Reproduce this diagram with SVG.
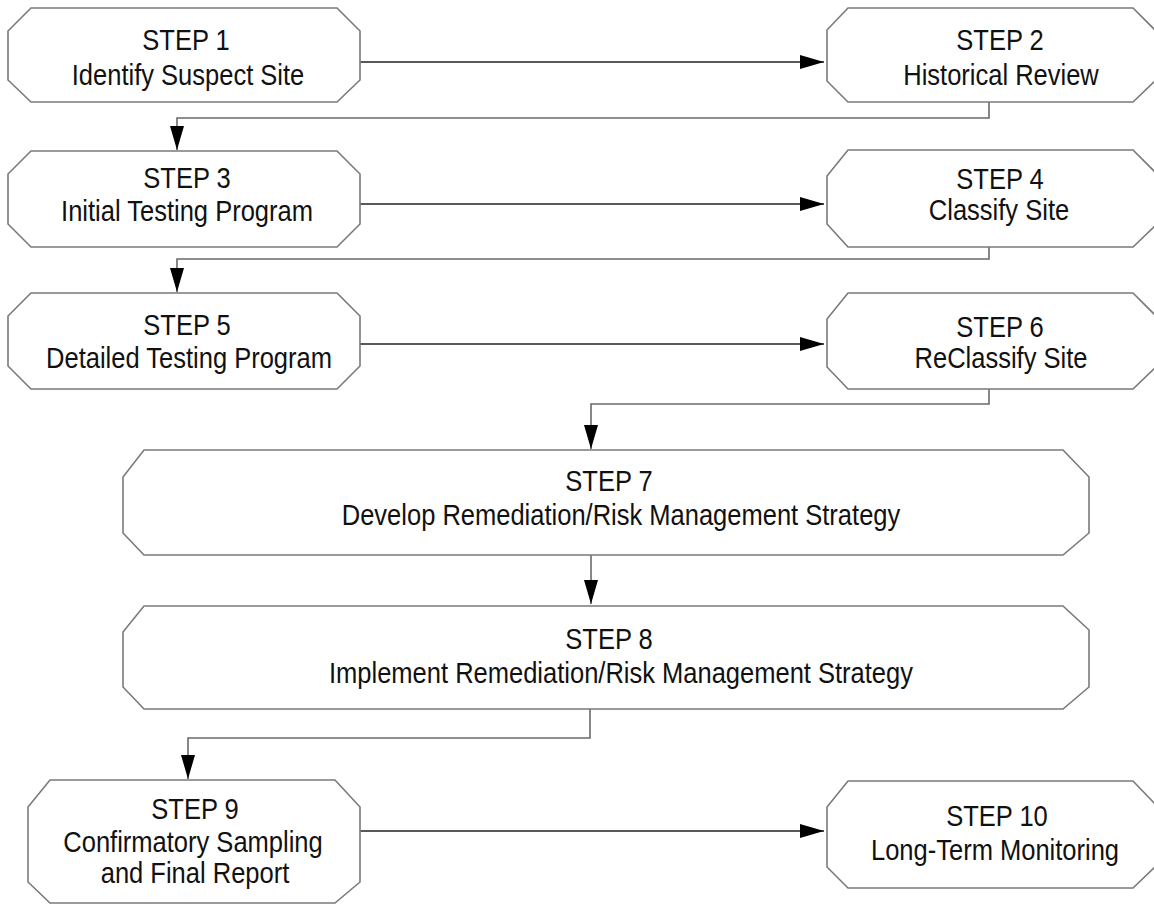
<svg xmlns="http://www.w3.org/2000/svg" width="1154" height="905" viewBox="0 0 1154 905">
<style>
.box{fill:#fff;stroke:#7a7a7a;stroke-width:1.6}
.t{font-family:"Liberation Sans",Arial,sans-serif;font-size:29px;fill:#111;text-anchor:middle}
.elbow{fill:none;stroke:#6a6a6a;stroke-width:1.6}
.arr{fill:none;stroke:#222;stroke-width:1.6}
</style>
<defs>
<marker id="ah" markerUnits="userSpaceOnUse" markerWidth="24" markerHeight="14" refX="24" refY="7" orient="auto">
<path d="M0,0 L24,7 L0,14 z" fill="#000"/>
</marker>
</defs>
<rect width="1154" height="905" fill="#fff"/>
<g id="connectors">
<path class="arr" d="M360,62 H824" marker-end="url(#ah)"/>
<path class="elbow" d="M989,102 V118 H177 V150" marker-end="url(#ah)"/>
<path class="arr" d="M360,204 H824" marker-end="url(#ah)"/>
<path class="elbow" d="M989,247 V259 H177 V292" marker-end="url(#ah)"/>
<path class="arr" d="M360,344 H824" marker-end="url(#ah)"/>
<path class="elbow" d="M989,389 V404 H591 V449" marker-end="url(#ah)"/>
<path class="elbow" d="M591,555 V604" marker-end="url(#ah)"/>
<path class="elbow" d="M590,709 V738 H188 V779" marker-end="url(#ah)"/>
<path class="arr" d="M360,831 H824" marker-end="url(#ah)"/>
</g>
<g id="step1">
<polygon class="box" points="31,8 337,8 360,31 360,80 337,102 31,102 8,80 8,31"/>
<text class="t" transform="translate(186,50) scale(0.88 1)">STEP 1</text>
<text class="t" transform="translate(188,85) scale(0.88 1)">Identify Suspect Site</text>
</g>
<g id="step2">
<polygon class="box" points="848,8 1133,8 1156,31 1156,80 1133,102 848,102 827,81 827,30"/>
<text class="t" transform="translate(1000,50) scale(0.88 1)">STEP 2</text>
<text class="t" transform="translate(1001,85) scale(0.88 1)">Historical Review</text>
</g>
<g id="step3">
<polygon class="box" points="31,151 337,151 360,174 360,224 337,247 31,247 8,224 8,174"/>
<text class="t" transform="translate(187,188) scale(0.88 1)">STEP 3</text>
<text class="t" transform="translate(187,221) scale(0.88 1)">Initial Testing Program</text>
</g>
<g id="step4">
<polygon class="box" points="848,150 1133,150 1156,173 1156,225 1133,247 848,247 827,224 827,176"/>
<text class="t" transform="translate(1000,189) scale(0.88 1)">STEP 4</text>
<text class="t" transform="translate(999,220) scale(0.88 1)">Classify Site</text>
</g>
<g id="step5">
<polygon class="box" points="31,293 337,293 360,316 360,366 337,389 31,389 8,366 8,316"/>
<text class="t" transform="translate(187,335) scale(0.88 1)">STEP 5</text>
<text class="t" transform="translate(189,368) scale(0.88 1)">Detailed Testing Program</text>
</g>
<g id="step6">
<polygon class="box" points="848,293 1133,293 1156,316 1156,367 1133,389 848,389 827,367 827,319"/>
<text class="t" transform="translate(1000,337) scale(0.88 1)">STEP 6</text>
<text class="t" transform="translate(1001,368) scale(0.88 1)">ReClassify Site</text>
</g>
<g id="step7">
<polygon class="box" points="144,450 1063,450 1089,477 1089,533 1063,555 144,555 123,533 123,477"/>
<text class="t" transform="translate(609,491) scale(0.88 1)">STEP 7</text>
<text class="t" transform="translate(621,525) scale(0.88 1)">Develop Remediation/Risk Management Strategy</text>
</g>
<g id="step8">
<polygon class="box" points="144,606 1063,606 1089,630 1089,687 1063,709 144,709 123,687 123,632"/>
<text class="t" transform="translate(609,649) scale(0.88 1)">STEP 8</text>
<text class="t" transform="translate(621,683) scale(0.88 1)">Implement Remediation/Risk Management Strategy</text>
</g>
<g id="step9">
<polygon class="box" points="50,780 335,780 360,807 360,882 335,903 50,903 28,882 28,807"/>
<text class="t" transform="translate(195,819) scale(0.88 1)">STEP 9</text>
<text class="t" transform="translate(193,852) scale(0.88 1)">Confirmatory Sampling</text>
<text class="t" transform="translate(195,883) scale(0.88 1)">and Final Report</text>
</g>
<g id="step10">
<polygon class="box" points="848,781 1133,781 1156,805 1156,866 1133,888 848,888 827,867 827,807"/>
<text class="t" transform="translate(997,826) scale(0.88 1)">STEP 10</text>
<text class="t" transform="translate(995,860) scale(0.88 1)">Long-Term Monitoring</text>
</g>
</svg>
